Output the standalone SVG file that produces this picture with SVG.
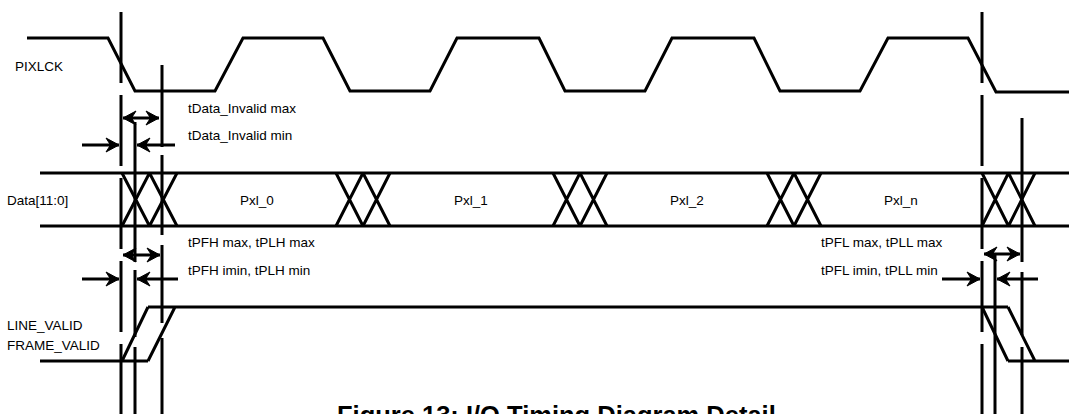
<svg xmlns="http://www.w3.org/2000/svg" width="1069" height="414" viewBox="0 0 1069 414">
<style>
.w{fill:none;stroke:#000;stroke-width:3;stroke-linejoin:miter}
.v{fill:none;stroke:#000;stroke-width:3}
.a{fill:none;stroke:#000;stroke-width:3}
.t{font-family:"Liberation Sans",Arial,sans-serif;font-size:13.5px;fill:#000}
.c{text-anchor:middle}
.title{font-family:"Liberation Sans",Arial,sans-serif;font-size:25.5px;font-weight:bold;fill:#000}
</style>
<defs>
<marker id="ah" markerUnits="userSpaceOnUse" markerWidth="15" markerHeight="17" viewBox="-14 -8.5 15 17" refX="0" refY="0" orient="auto-start-reverse">
<path d="M0,0 L-13,-7 L-8.5,0 L-13,7 Z" fill="#000" stroke="#000" stroke-width="1" stroke-linejoin="round"/>
</marker>
</defs>
<rect width="1069" height="414" fill="#fff"/>

<g id="pixlck">
<path class="w" d="M27,38 L108,38 L135,91 L215,91 L243,38 L323,38 L350,91 L430,91 L457,38 L539,38 L565,91 L645,91 L672,38 L754,38 L780,91 L860,91 L888,38 L968,38 L996,92 L1069,92"/>
<text class="t" x="15" y="71">PIXLCK</text>
</g>

<g id="data">
<path class="w" d="M40,173 L1069,173 M40,226 L1069,226"/>
<path class="w" d="M122,173 L149.5,226 M149.5,173 L122,226 M149.5,173 L177,226 M177,173 L149.5,226"/>
<path class="w" d="M336,173 L363,226 M363,173 L336,226 M363,173 L390,226 M390,173 L363,226"/>
<path class="w" d="M553,173 L580,226 M580,173 L553,226 M580,173 L607,226 M607,173 L580,226"/>
<path class="w" d="M767,173 L794,226 M794,173 L767,226 M794,173 L821,226 M821,173 L794,226"/>
<path class="w" d="M982,173 L1008.5,226 M1008.5,173 L982,226 M1008.5,173 L1035,226 M1035,173 L1008.5,226"/>
<text class="t" x="7" y="205">Data[11:0]</text>
<text class="t c" x="257" y="205">Pxl_0</text>
<text class="t c" x="471" y="205">Pxl_1</text>
<text class="t c" x="687" y="205">Pxl_2</text>
<text class="t c" x="901" y="205">Pxl_n</text>
</g>

<g id="line_valid">
<path class="w" d="M40,361 L148,361 M122,361 L148,307 M148,361 L175,307 M148,307 L1008,307 M982,307 L1008,361 M1008,307 L1035,361 M1008,361 L1069,361"/>
<text class="t" x="7" y="330">LINE_VALID</text>
<text class="t" x="7" y="350">FRAME_VALID</text>
</g>

<g id="timing-lines">
<path class="v" d="M121,12 V83 M121,95 V166 M121,178 V249 M121,261 V332 M121,344 V414"/>
<path class="v" d="M135,122 V262 M135,270 V337 M135,347 V414"/>
<path class="v" d="M162,65 V147 M162,155 V235 M162,245 V323 M162,338 V414"/>
<path class="v" d="M982,12 V83 M982,95 V166 M982,178 V249 M982,261 V332 M982,344 V414"/>
<path class="v" d="M995,254 V414"/>
<path class="v" d="M1022,118 V262 M1022,272 V335 M1022,347 V414"/>
</g>

<g id="connectors">
<line class="a" x1="123" y1="118" x2="159" y2="118" marker-start="url(#ah)" marker-end="url(#ah)"/>
<line class="a" x1="82" y1="145" x2="119" y2="145" marker-end="url(#ah)"/>
<line class="a" x1="175" y1="145" x2="137" y2="145" marker-end="url(#ah)"/>
<line class="a" x1="123" y1="255" x2="160" y2="255" marker-start="url(#ah)" marker-end="url(#ah)"/>
<line class="a" x1="82" y1="279" x2="119" y2="279" marker-end="url(#ah)"/>
<line class="a" x1="178" y1="279" x2="137" y2="279" marker-end="url(#ah)"/>
<line class="a" x1="984" y1="254" x2="1020" y2="254" marker-start="url(#ah)" marker-end="url(#ah)"/>
<line class="a" x1="942" y1="279" x2="980" y2="279" marker-end="url(#ah)"/>
<line class="a" x1="1038" y1="279" x2="997" y2="279" marker-end="url(#ah)"/>
</g>

<g id="labels">
<text class="t" x="188" y="113">tData_Invalid max</text>
<text class="t" x="188" y="140">tData_Invalid min</text>
<text class="t" x="188" y="247">tPFH max, tPLH max</text>
<text class="t" x="188" y="275">tPFH imin, tPLH min</text>
<text class="t" x="821" y="247">tPFL max, tPLL max</text>
<text class="t" x="821" y="275">tPFL imin, tPLL min</text>
</g>

<g id="caption">
<text class="title" x="337" y="424">Figure 13: I/O Timing Diagram Detail</text>
</g>
</svg>
